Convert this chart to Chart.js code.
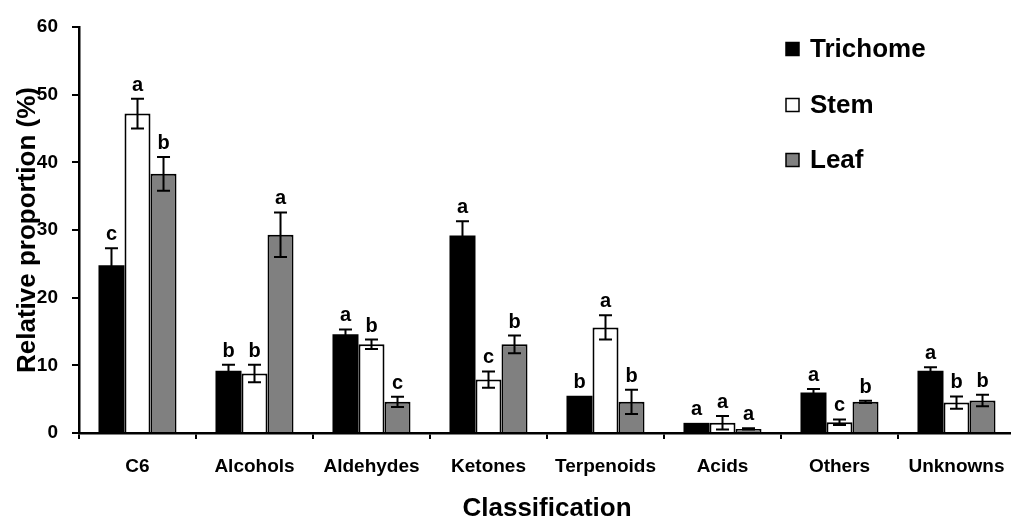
<!DOCTYPE html>
<html>
<head>
<meta charset="utf-8">
<script src="https://cdn.jsdelivr.net/npm/chart.js@4"></script>
<style>
  html, body { margin: 0; padding: 0; background: #ffffff; overflow: hidden; }
  #wrap { width: 1011px; height: 519px; overflow: hidden; position: relative; }
  canvas { display: block; }
</style>
</head>
<body>
<div id="wrap"><canvas id="c" width="1016" height="519"></canvas></div>
<script>
// ---- data ----
const categories = ['C6', 'Alcohols', 'Aldehydes', 'Ketones', 'Terpenoids', 'Acids', 'Others', 'Unknowns'];
const seriesNames = ['Trichome', 'Stem', 'Leaf'];

const trichome    = [24.8, 9.2, 14.6, 29.2, 5.5, 1.5, 6.0, 9.2];
const trichomeErr = [2.5, 0.9, 0.7, 2.1, 0, 0, 0.5, 0.5];
const trichomeSig = ['c', 'b', 'a', 'a', 'b', 'a', 'a', 'a'];

const stem    = [47.2, 8.8, 13.1, 7.9, 15.6, 1.5, 1.6, 4.5];
const stemErr = [2.2, 1.3, 0.7, 1.2, 1.8, 1.0, 0.4, 0.9];
const stemSig = ['a', 'b', 'b', 'c', 'a', 'a', 'c', 'b'];

const leaf    = [38.3, 29.3, 4.6, 13.1, 4.6, 0.6, 4.6, 4.8];
const leafErr = [2.5, 3.3, 0.75, 1.3, 1.8, 0.1, 0.15, 0.85];
const leafSig = ['b', 'a', 'c', 'b', 'b', 'a', 'b', 'b'];

const yMin = 0, yMax = 60, yStep = 10;

const FONT = "'Liberation Sans', Arial, sans-serif";

const errPlugin = {
  id: 'errLetters',
  afterDatasetsDraw(chart) {
    const ctx = chart.ctx;
    const y = chart.scales.y;
    ctx.save();
    chart.data.datasets.forEach((ds, di) => {
      const meta = chart.getDatasetMeta(di);
      meta.data.forEach((bar, i) => {
        const v = ds.data[i];
        const e = ds.errors[i];
        const x = bar.x;
        const yt = y.getPixelForValue(v + e);
        const yb = y.getPixelForValue(Math.max(0, v - e));
        if (e > 0) {
          ctx.strokeStyle = '#000';
          ctx.lineWidth = 2;
          ctx.beginPath();
          ctx.moveTo(x, yt); ctx.lineTo(x, yb);
          ctx.moveTo(x - 6.5, yt); ctx.lineTo(x + 6.5, yt);
          ctx.moveTo(x - 6.5, yb); ctx.lineTo(x + 6.5, yb);
          ctx.stroke();
        }
        ctx.fillStyle = '#000';
        ctx.font = 'bold 20px ' + FONT;
        ctx.textAlign = 'center';
        ctx.textBaseline = 'alphabetic';
        ctx.fillText(ds.letters[i], x, yt - 8);
      });
    });
    ctx.restore();
  }
};

const legendPlugin = {
  id: 'customLegend',
  afterDraw(chart) {
    const ctx = chart.ctx;
    ctx.save();
    const x0 = 786, ys = [49, 105, 160];
    chart.data.datasets.forEach((ds, i) => {
      const cy = ys[i];
      ctx.fillStyle = ds.backgroundColor;
      ctx.fillRect(x0, cy - 6.5, 13, 13);
      ctx.strokeStyle = '#000';
      ctx.lineWidth = 1.5;
      ctx.strokeRect(x0, cy - 6.5, 13, 13);
      ctx.fillStyle = '#000';
      ctx.font = 'bold 26px ' + FONT;
      ctx.textAlign = 'left';
      ctx.textBaseline = 'middle';
      ctx.fillText(ds.label, x0 + 24, cy + 1);
    });
    ctx.restore();
  }
};

new Chart(document.getElementById('c'), {
  type: 'bar',
  data: {
    labels: categories,
    datasets: [
      { label: seriesNames[0], data: trichome, errors: trichomeErr, letters: trichomeSig,
        backgroundColor: '#000000', borderColor: '#000000', borderWidth: 0 },
      { label: seriesNames[1], data: stem, errors: stemErr, letters: stemSig,
        backgroundColor: '#ffffff', borderColor: '#000000', borderWidth: 2 },
      { label: seriesNames[2], data: leaf, errors: leafErr, letters: leafSig,
        backgroundColor: '#808080', borderColor: '#000000', borderWidth: 2 }
    ]
  },
  options: {
    responsive: false,
    animation: false,
    devicePixelRatio: 1,
    layout: { padding: { top: 27, right: 1, bottom: 0, left: 0 } },
    datasets: { bar: { categoryPercentage: 0.667, barPercentage: 1.0 } },
    plugins: { legend: { display: false }, tooltip: { enabled: false } },
    scales: {
      x: {
        offset: true,
        grid: { offset: true, drawOnChartArea: false, drawTicks: true, tickLength: 6, color: '#000', lineWidth: 2 },
        border: { display: true, color: '#000', width: 2.5 },
        ticks: { color: '#000', font: { family: FONT, size: 19, weight: 'bold' }, padding: 16, maxRotation: 0 },
        title: { display: true, text: 'Classification', color: '#000',
                 font: { family: FONT, size: 26, weight: 'bold' }, padding: { top: 0, bottom: -5 } },
        afterFit(s) { s.height = 86; s.paddingLeft = 0; s.paddingRight = 0; }
      },
      y: {
        min: yMin, max: yMax,
        grid: { drawOnChartArea: false, drawTicks: true, tickLength: 7, color: '#000', lineWidth: 2 },
        border: { display: true, color: '#000', width: 2.5 },
        ticks: { stepSize: yStep, color: '#000', font: { family: FONT, size: 19, weight: 'bold' }, padding: 14 },
        title: { display: true, text: 'Relative proportion (%)', color: '#000',
                 font: { family: FONT, size: 26, weight: 'bold' }, padding: { top: 12, bottom: 0 } },
        afterFit(s) { s.width = 79; }
      }
    }
  },
  plugins: [errPlugin, legendPlugin]
});
</script>
</body>
</html>
